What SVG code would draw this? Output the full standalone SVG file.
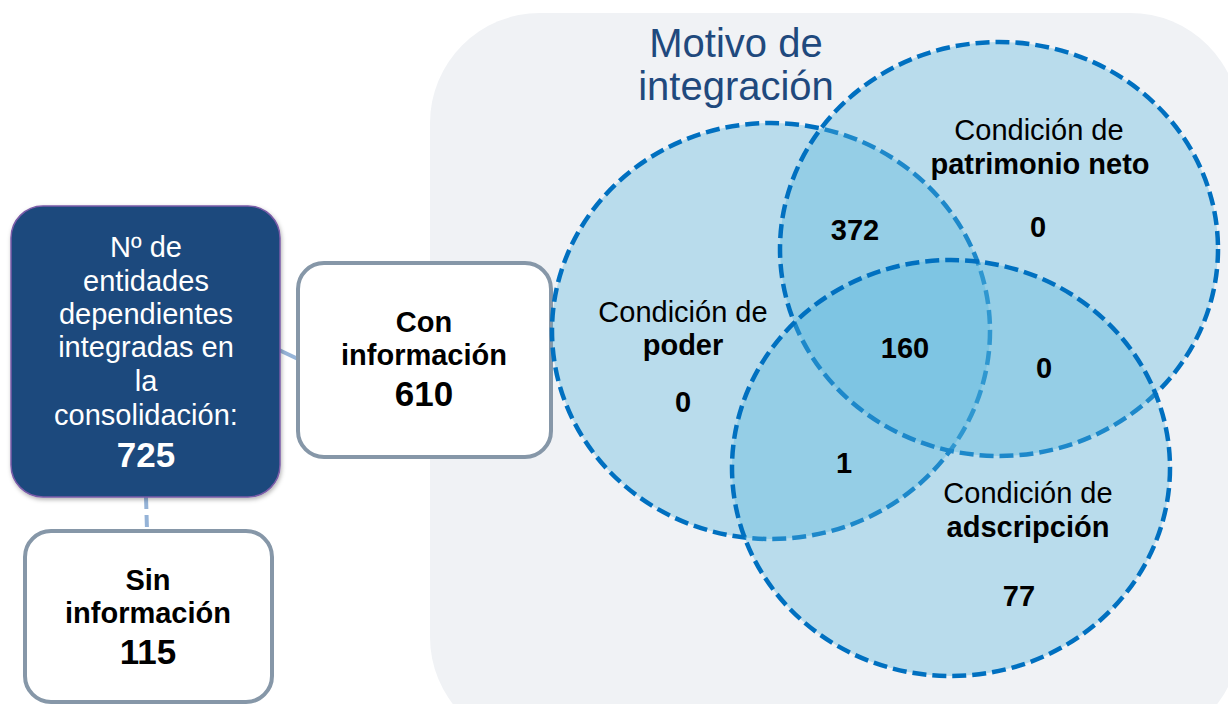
<svg xmlns="http://www.w3.org/2000/svg" width="1228" height="704" viewBox="0 0 1228 704">
  <defs>
    <filter id="sh" x="-10%" y="-10%" width="130%" height="130%">
      <feDropShadow dx="1" dy="2" stdDeviation="2" flood-color="#000" flood-opacity="0.3"/>
    </filter>
    <style>
      .reg{font-family:"Liberation Sans",Arial,sans-serif;font-size:29px;fill:#000;text-anchor:middle}
      .bold{font-family:"Liberation Sans",Arial,sans-serif;font-size:29px;font-weight:bold;fill:#000;text-anchor:middle}
      .big{font-family:"Liberation Sans",Arial,sans-serif;font-size:35px;font-weight:bold;text-anchor:middle}
      .wt{font-family:"Liberation Sans",Arial,sans-serif;font-size:29px;fill:#fff;text-anchor:middle}
      .set{fill:#54b4de;fill-opacity:0.35;stroke:#0070c0;stroke-width:4.5;stroke-dasharray:14 6}
      .box{fill:#fff;stroke:#8697a8;stroke-width:4}
      .conn{stroke:#95b3d7;stroke-width:4;fill:none}
    </style>
  </defs>
  <rect width="1228" height="704" fill="#fff"/>
  <rect id="panel" x="430" y="13" width="810" height="734" rx="110" fill="#f0f2f5"/>

  <g id="connectors">
    <line class="conn" x1="279" y1="350" x2="298" y2="359"/>
    <line class="conn" x1="146" y1="497" x2="147" y2="530" stroke-dasharray="12 6"/>
  </g>

  <g id="total">
    <rect x="11" y="206" width="269" height="291" rx="32" fill="#1f497d" stroke="#7a5ca8" stroke-width="1.5" filter="url(#sh)"/>
    <text class="wt" x="146" y="257">Nº de</text>
    <text class="wt" x="146" y="291">entidades</text>
    <text class="wt" x="146" y="324">dependientes</text>
    <text class="wt" x="146" y="357">integradas en</text>
    <text class="wt" x="146" y="391">la</text>
    <text class="wt" x="146" y="425">consolidación:</text>
    <text class="big" x="146" y="467" fill="#fff">725</text>
  </g>

  <g id="con-informacion">
    <rect class="box" x="298" y="263" width="253" height="194" rx="26"/>
    <text class="bold" x="424" y="332">Con</text>
    <text class="bold" x="424" y="365">información</text>
    <text class="big" x="424" y="406" fill="#000">610</text>
  </g>

  <g id="sin-informacion">
    <rect class="box" x="25" y="531" width="247" height="171" rx="26"/>
    <text class="bold" x="148" y="590">Sin</text>
    <text class="bold" x="148" y="623">información</text>
    <text class="big" x="148" y="664" fill="#000">115</text>
  </g>

  <text id="title" x="736" y="57" font-family="'Liberation Sans',Arial,sans-serif" font-size="40" fill="#1f497d" text-anchor="middle">Motivo de</text>
  <text x="736" y="100" font-family="'Liberation Sans',Arial,sans-serif" font-size="40" fill="#1f497d" text-anchor="middle">integración</text>

  <g id="set-poder">
    <ellipse class="set" cx="771" cy="331" rx="219" ry="208"/>
  </g>
  <g id="set-patrimonio">
    <ellipse class="set" cx="999" cy="249" rx="219" ry="207"/>
  </g>
  <g id="set-adscripcion">
    <ellipse class="set" cx="951" cy="468" rx="219" ry="208"/>
  </g>

  <g id="labels">
    <text class="reg" x="683" y="322">Condición de</text>
    <text class="bold" x="683" y="355">poder</text>
    <text class="bold" x="683" y="412">0</text>

    <text class="reg" x="1039" y="140">Condición de</text>
    <text class="bold" x="1040" y="174">patrimonio neto</text>
    <text class="bold" x="1038" y="237">0</text>

    <text class="reg" x="1028" y="503">Condición de</text>
    <text class="bold" x="1028" y="537">adscripción</text>
    <text class="bold" x="1019" y="606">77</text>

    <text class="bold" x="855" y="240">372</text>
    <text class="bold" x="905" y="358">160</text>
    <text class="bold" x="1044" y="378">0</text>
    <text class="bold" x="844" y="473">1</text>
  </g>
</svg>
